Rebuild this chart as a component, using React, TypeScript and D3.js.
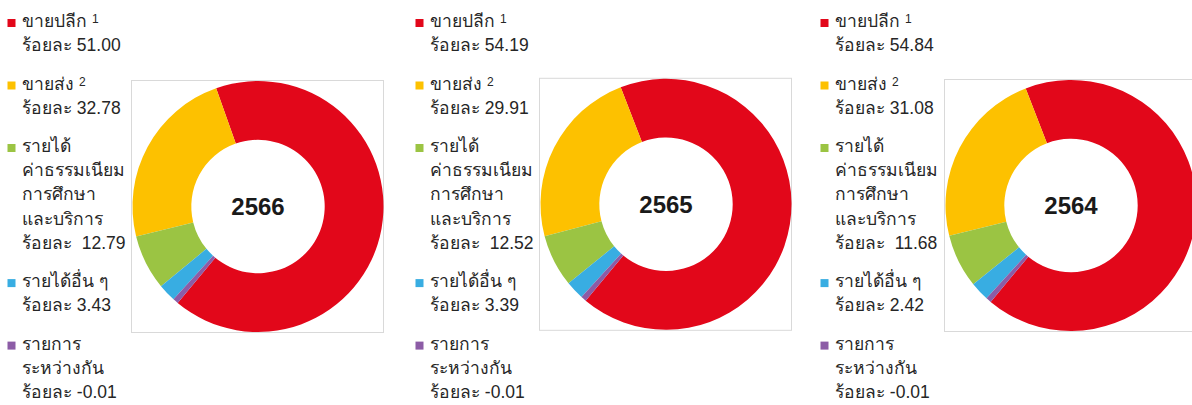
import React from "react";
import * as d3 from "d3";

const years = ["2566", "2565", "2564"];
const categoryLines = [
  ["ขายปลีก"],
  ["ขายส่ง"],
  ["รายได้", "ค่าธรรมเนียม", "การศึกษา", "และบริการ"],
  ["รายได้อื่น ๆ"],
  ["รายการ", "ระหว่างกัน"],
];
const categorySup = ["1", "2", "", "", ""];
const colors = ["#E2071A", "#FDC100", "#9BC443", "#38ADE2", "#8C5CA6"];
const percentLabels2566 = ["51.00", "32.78", "12.79", "3.43", "-0.01"];
const percentLabels2565 = ["54.19", "29.91", "12.52", "3.39", "-0.01"];
const percentLabels2564 = ["54.84", "31.08", "11.68", "2.42", "-0.01"];
// slice sizes as drawn in the donuts
const donutShare2566 = [66.4, 23.4, 7.1, 2.3, 0.7];
const donutShare2565 = [66.9, 23.2, 6.75, 2.4, 0.7];
const donutShare2564 = [66.9, 23.0, 6.9, 2.45, 0.7];

const percentLabels = [percentLabels2566, percentLabels2565, percentLabels2564];
const donutShares = [donutShare2566, donutShare2565, donutShare2564];

const W = 1192;
const H = 405;
const panelX = [0, 408, 813];
const cyList = [206.5, 204.3, 205.5];
const outerR = 125.5;
const innerR = 66.7;
const font = "'Liberation Sans', Arial, 'Noto Sans', sans-serif";
const lineH = 24.2;
const itemStep = 38.3;
const firstBaseline = 27;

function Panel({ idx }: { idx: number }) {
  const x0 = panelX[idx];
  const cx = x0 + 258;
  const cy = cyList[idx];
  const start = (219.8 * Math.PI) / 180;
  const pie = d3
    .pie<number>()
    .sort(null)
    .value((d) => d)
    .startAngle(start)
    .endAngle(start - 2 * Math.PI);
  const arcs = pie(donutShares[idx]);
  const arc = d3.arc<d3.PieArcDatum<number>>().innerRadius(innerR).outerRadius(outerR);

  let y = firstBaseline;
  const items = categoryLines.map((lines, i) => {
    const all = [...lines, "__pct"];
    const startY = y;
    const texts = all.map((ln, j) => {
      const ly = startY + j * lineH;
      if (ln === "__pct") {
        const gap = i === 2 ? "  " : " ";
        return (
          <text key={j} x={x0 + 22} y={ly} style={{ whiteSpace: "pre" }}>
            {"ร้อยละ" + gap + percentLabels[idx][i]}
          </text>
        );
      }
      return (
        <text key={j} x={x0 + 22} y={ly}>
          {ln}
          {j === 0 && categorySup[i] ? (
            <tspan dx={5} dy={-4} fontSize={12}>
              {categorySup[i]}
            </tspan>
          ) : null}
        </text>
      );
    });
    y = startY + (all.length - 1) * lineH + itemStep;
    return (
      <g key={i}>
        <rect x={x0 + 7.5} y={startY - 8} width={8} height={8} fill={colors[i]} />
        {texts}
      </g>
    );
  });

  return (
    <g>
      <rect
        x={cx - 126.5}
        y={cy - 126}
        width={252}
        height={252}
        fill="#fff"
        stroke="#D9D9D9"
        strokeWidth={1}
      />
      <g transform={`translate(${cx},${cy})`}>
        {arcs.map((a, i) => (
          <path key={i} d={arc(a) || ""} fill={colors[i]} />
        ))}
        <text
          x={0}
          y={8.5}
          textAnchor="middle"
          fontSize={24}
          fontWeight="bold"
          fill="#1a1a1a"
        >
          {years[idx]}
        </text>
      </g>
      <g fontSize={17.5} fill="#262626">
        {items}
      </g>
    </g>
  );
}

export default function App() {
  return (
    <svg
      width={W}
      height={H}
      style={{ position: "absolute", left: 0, top: 0, display: "block", background: "#fff" }}
      fontFamily={font}
    >
      {years.map((_, i) => (
        <Panel key={i} idx={i} />
      ))}
    </svg>
  );
}
